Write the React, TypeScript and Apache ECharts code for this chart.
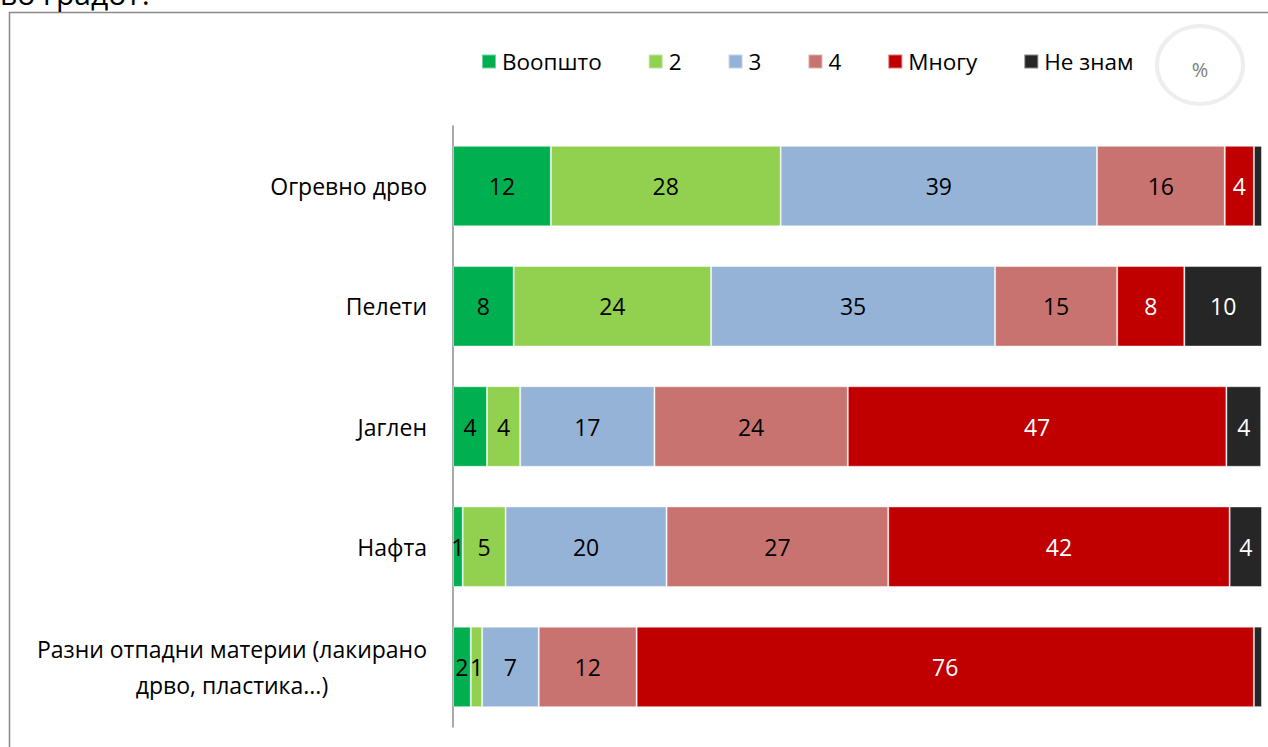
import React, { useEffect, useRef } from "react";
import * as echarts from "echarts";

const categories = [
  "Огревно дрво",
  "Пелети",
  "Јаглен",
  "Нафта",
  "Разни отпадни материи (лакирано\nдрво, пластика...)",
];
const seriesNames = ["Воопшто", "2", "3", "4", "Многу", "Не знам"];
// estimated shares (%); labels show rounded values
const vVoopsto = [12.1, 7.5, 4.2, 1.2, 2.2];
const v2 = [28.4, 24.4, 4.1, 5.3, 1.4];
const v3 = [39.1, 35.1, 16.6, 19.9, 7.0];
const v4 = [15.8, 15.1, 23.9, 27.4, 12.1];
const vMnogu = [3.6, 8.3, 46.8, 42.2, 76.3];
const vNeZnam = [1.0, 9.6, 4.3, 4.0, 1.0];
const seriesValues = [vVoopsto, v2, v3, v4, vMnogu, vNeZnam];
const colors = ["#00B050", "#92D050", "#95B3D7", "#C8736F", "#C00000", "#262626"];
const labelColors = ["#000", "#000", "#000", "#000", "#fff", "#fff"];
const titleTail = "во градот?";

const FONT = "'Open Sans', 'Noto Sans', sans-serif";

export default function App() {
  const ref = useRef<HTMLDivElement>(null);
  useEffect(() => {
    if (!ref.current) return;
    const chart = echarts.init(ref.current, null, { renderer: "svg" });
    chart.setOption({
      animation: false,
      textStyle: { fontFamily: FONT },
      graphic: [
        {
          type: "text",
          x: 0,
          y: -6.5,
          style: {
            text: titleTail,
            fontSize: 30,
            fill: "#000",
            fontFamily: FONT,
            verticalAlign: "middle",
          },
        },
        {
          type: "rect",
          shape: { x: 9.5, y: 12.5, width: 1400, height: 900 },
          style: { fill: "none", stroke: "#898989", lineWidth: 1.5 },
          z: -1,
        },
        {
          type: "ellipse",
          shape: { cx: 1200, cy: 65, rx: 43, ry: 39 },
          style: { fill: "none", stroke: "#eeeeee", lineWidth: 4 },
        },
        {
          type: "text",
          x: 1200,
          y: 69,
          style: {
            text: "%",
            fontSize: 20,
            fill: "#808080",
            align: "center",
            verticalAlign: "middle",
            fontFamily: FONT,
          },
        },
      ],
      legend: {
        top: 45,
        left: 476,
        itemWidth: 14,
        itemHeight: 14,
        itemGap: 46,
        icon: "rect",
        textStyle: { fontSize: 22.5, color: "#000", padding: [0, 0, 0, 1], fontFamily: FONT },
        data: seriesNames,
      },
      grid: { left: 453, right: 6, top: 126, bottom: 20, containLabel: false },
      xAxis: {
        type: "value",
        min: 0,
        max: 100,
        show: false,
      },
      yAxis: {
        type: "category",
        inverse: true,
        data: categories,
        axisLine: { show: true, lineStyle: { color: "#8c8c8c", width: 1.5 } },
        axisTick: { show: false },
        axisLabel: {
          margin: 26,
          fontSize: 23,
          color: "#000",
          lineHeight: 36,
          fontFamily: FONT,
          formatter: (v: string) =>
            v
              .split("\n")
              .map((s) => `{a|${s}}`)
              .join("\n"),
          rich: {
            a: { align: "center", fontSize: 23, lineHeight: 36, color: "#000", fontFamily: FONT },
          },
        },
      },
      series: seriesNames.map((name, i) => ({
        name,
        type: "bar",
        stack: "total",
        barCategoryGap: "33%",
        itemStyle: {
          color: colors[i],
          borderColor: "rgba(255,255,255,0.45)",
          borderWidth: 1,
        },
        label: {
          show: true,
          position: "inside",
          fontSize: 23,
          fontFamily: FONT,
          color: labelColors[i],
          formatter: (p: any) => (i === 5 && p.value <= 1 ? "" : String(Math.round(p.value))),
        },
        data: seriesValues[i],
      })),
    });
    return () => chart.dispose();
  }, []);
  return (
    <div
      ref={ref}
      style={{ position: "fixed", left: 0, top: 0, width: 1268, height: 747, background: "#fff" }}
    />
  );
}
